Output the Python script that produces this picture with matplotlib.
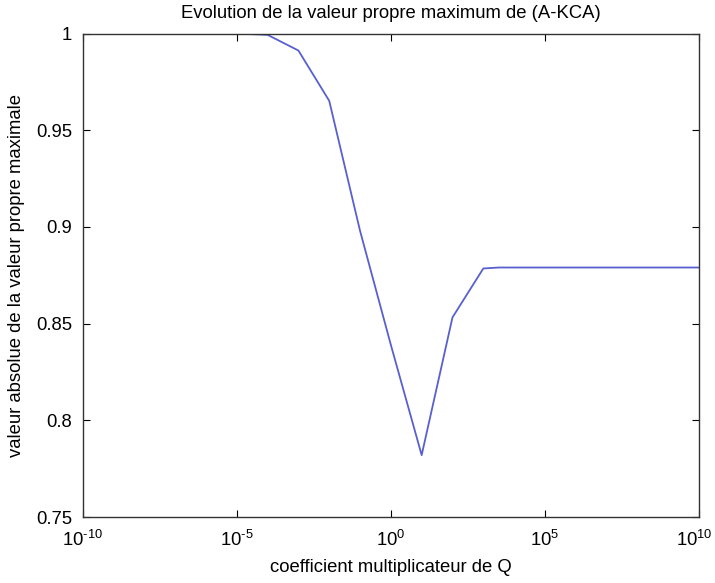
import math
import matplotlib
matplotlib.use("Agg")
import matplotlib.pyplot as plt
from matplotlib.ticker import FixedLocator, FuncFormatter, NullLocator
from matplotlib.transforms import ScaledTranslation

plt.rcParams['font.family'] = ['Liberation Sans', 'DejaVu Sans']
plt.rcParams['mathtext.fontset'] = 'custom'
plt.rcParams['mathtext.rm'] = 'Liberation Sans'
plt.rcParams['mathtext.it'] = 'Liberation Sans'
plt.rcParams['mathtext.default'] = 'regular'

# data: exponent of the multiplier coefficient and max |eigenvalue|
log_coef = [-10, -9, -8, -7, -6, -5, -4, -3, -2, -1, 0, 1, 2, 3, 3.5, 4, 5, 6, 7, 8, 9, 10]
eig_max = [1.0, 1.0, 1.0, 1.0, 1.0, 1.0, 0.9993, 0.9912, 0.9652, 0.898, 0.839, 0.782,
           0.8532, 0.8785, 0.879, 0.879, 0.879, 0.879, 0.879, 0.879, 0.879, 0.879]
x_ticks = [-10, -5, 0, 5, 10]
y_ticks = [0.75, 0.8, 0.85, 0.9, 0.95, 1.0]

coef = [10.0 ** e for e in log_coef]

FS = 13.3

fig = plt.figure(figsize=(7.15, 5.83), dpi=100)
ax = fig.add_axes([82.7 / 715, 1 - 517 / 583, (699 - 82.7) / 715, (517 - 33.5) / 583])
ax.plot(coef, eig_max, color='#5860cf', lw=1.3, zorder=1)
ax.set_xscale('log')
ax.set_xlim(1e-10, 1e10)
ax.set_ylim(0.75, 1.0)


def exp_label(v, p):
    e = int(round(math.log10(v)))
    s = str(e).replace('-', r'\text{-}')
    return r'$10^{%s}$' % s


ax.xaxis.set_major_locator(FixedLocator([10.0 ** e for e in x_ticks]))
ax.xaxis.set_minor_locator(NullLocator())
ax.xaxis.set_major_formatter(FuncFormatter(exp_label))
ax.set_yticks(y_ticks)
ax.yaxis.set_major_formatter(FuncFormatter(lambda v, p: '%g' % round(v, 2)))

ax.tick_params(direction='in', top=True, right=True, length=5, width=0.8,
               labelsize=FS)
ax.tick_params(axis='y', pad=7.5)
ax.tick_params(axis='x', pad=9)
for s in ax.spines.values():
    s.set_linewidth(1.0)
    s.set_color('#333333')
    s.set_zorder(3)

ax.set_title('Evolution de la valeur propre maximum de (A-KCA)', fontsize=FS, pad=11)
ax.set_xlabel('coefficient multiplicateur de Q', fontsize=FS, labelpad=7)
ax.set_ylabel('valeur absolue de la valeur propre maximale', fontsize=FS, labelpad=8)

fig.canvas.draw()
last = ax.xaxis.get_major_ticks()[-1].label1
last.set_transform(last.get_transform() + ScaledTranslation(-5 / 100, 0, fig.dpi_scale_trans))

fig.savefig('out.png', dpi=100)
